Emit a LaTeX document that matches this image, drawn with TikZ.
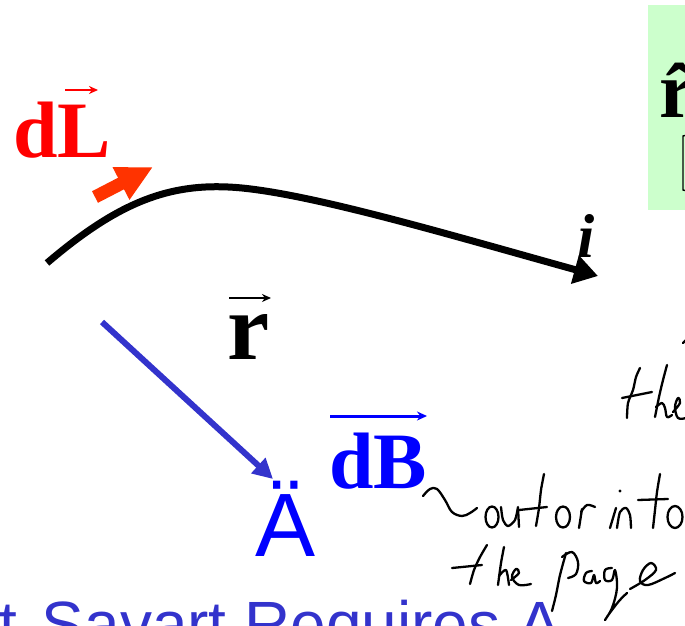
\documentclass[tikz,border=0pt]{standalone}
\usepackage{fontspec}
\setmainfont{Liberation Serif}
\newfontfamily\arialf{Liberation Sans}
\usetikzlibrary{arrows.meta}
\definecolor{dlred}{HTML}{FF0000}
\definecolor{arrred}{HTML}{FF3300}
\definecolor{blueA}{HTML}{0000FF}
\definecolor{blueB}{HTML}{3333CC}
\definecolor{greenbox}{HTML}{CCFFCC}
\begin{document}
\begin{tikzpicture}[x=1pt,y=-1pt,
  lbl/.style={inner sep=0pt, outer sep=0pt, anchor=base west},
  hand/.style={line width=2.3pt, line cap=round, line join=round, black},
  vecarr/.style={line width=2pt, -{Stealth[length=9pt,width=8pt]}}]
\useasboundingbox (0,0) rectangle (685,626);
% green box (partially visible)
\fill[greenbox] (648,5) rectangle (690,210);
\node[lbl] (rhat) at (659,117) {\fontsize{80}{80}\selectfont\bfseries\^{r}};
\draw[line width=1.4pt] (687,135) -- (683,136) -- (683,190) -- (687,191);
% dL label
\node[lbl, text=dlred] (dL) at (13,157) {\fontsize{80}{80}\selectfont\bfseries dL};
\coordinate (dLv0) at (65,90); \coordinate (dLv1) at (98,90);
\draw[vecarr, dlred] (dLv0) -- (dLv1);
% red direction arrow
\coordinate (ra0) at (95,197); \coordinate (ra1) at (153,167);
\draw[arrred, line width=13pt, -{Triangle[length=36pt,width=34pt]}] (ra0) -- (ra1);
% current-carrying wire
\coordinate (w0) at (47,263); \coordinate (w1) at (228,187); \coordinate (w2) at (598,276);
\draw[line width=7pt, -{Triangle[length=24pt,width=28pt]}]
  (w0) .. controls (115,205) and (165,184) .. (w1)
       .. controls (300,190) and (450,235) .. (w2);
\node[lbl] (cur) at (577,257) {\fontsize{62}{62}\selectfont\bfseries\itshape i};
% r vector
\node[lbl] (rvec) at (227,359) {\fontsize{95}{95}\selectfont\bfseries r};
\coordinate (rv0) at (229,298); \coordinate (rv1) at (271,298);
\draw[vecarr] (rv0) -- (rv1);
\coordinate (b0) at (102,322); \coordinate (b1) at (273,479);
\draw[blueB, line width=6pt, -{Triangle[length=20pt,width=20pt]}] (b0) -- (b1);
% point A
\node[lbl, text=blueA] (ptA) at (255,556) {\arialf\fontsize{90}{90}\selectfont Ä};
% dB
\node[lbl, text=blueA] (dB) at (329,488) {\fontsize{80}{80}\selectfont\bfseries dB};
\coordinate (dBv0) at (330,416); \coordinate (dBv1) at (427,416);
\draw[blueA, line width=3pt, -{Stealth[length=10pt,width=9pt]}] (dBv0) -- (dBv1);
% bottom title (cut off)
\node[lbl, text=blueB] (title) at (-1,646) {\arialf\fontsize{64}{64}\selectfont t\hspace{25pt}Savart Requires A};
% handwriting: ~ out or into
\draw[hand] plot[smooth, tension=0.6] coordinates {(423,496) (430,489) (437,489) (445,500) (452,512) (462,516) (470,513) (477,508)};
\draw[hand] (492,517) ellipse [x radius=6.5, y radius=10.5];
\draw[hand] plot[smooth, tension=0.5] coordinates {(501,507) (503,520) (508,526) (515,520) (518,507)};
\draw[hand] (518,508) -- (519,527);
\draw[hand] plot[smooth, tension=0.5] coordinates {(544,474) (541,490) (539,508) (536,526)};
\draw[hand] (519,510) -- (547,507);
\draw[hand] (563,517) ellipse [x radius=7, y radius=10.5];
\draw[hand] (579,528) -- (582,509);
\draw[hand] plot[smooth, tension=0.6] coordinates {(581,512) (587,505) (595,507)};
\draw[hand] (610,528) -- (616,508);
\fill (620,491) circle [radius=1.6];
\draw[hand] plot[smooth, tension=0.5] coordinates {(617,528) (620,512) (626,508) (630,515) (631,528)};
\draw[hand] plot[smooth, tension=0.5] coordinates {(660,474) (657,492) (655,510) (653,528)};
\draw[hand] (638,500) -- (668,499);
\draw[hand] (675,517) ellipse [x radius=7.5, y radius=11];
% handwriting: the page
\draw[hand] plot[smooth, tension=0.5] coordinates {(487,545) (480,557) (474,570) (470,584)};
\draw[hand] (452,568) -- (482,565);
\draw[hand] plot[smooth, tension=0.5] coordinates {(504,547) (501,563) (498,585)};
\draw[hand] plot[smooth, tension=0.5] coordinates {(499,576) (506,570) (509,585)};
\draw[hand] plot[smooth, tension=0.6] coordinates {(511,580) (519,573) (516,569) (512,577) (519,585) (531,584)};
\draw[hand] plot[smooth, tension=0.5] coordinates {(566,553) (560,575) (556,595) (552,611)};
\draw[hand] plot[smooth, tension=0.6] coordinates {(562,557) (572,552) (578,562) (576,574) (568,578)};
\draw[hand] plot[smooth, tension=0.6] coordinates {(592,571) (586,573) (584,581) (591,583) (594,575) (596,583) (600,581)};
\draw[hand] plot[smooth, tension=0.6] coordinates {(612,568) (605,570) (605,580) (612,580) (615,570) (617,588) (612,608) (605,620) (609,614) (619,601) (627,593)};
\draw[hand] plot[smooth, tension=0.6] coordinates {(630,589) (645,580) (656,570) (651,563) (643,570) (640,581) (648,585) (665,578) (675,573)};
% handwriting: "the" top right
\draw[hand] plot[smooth, tension=0.5] coordinates {(640,368) (636,377) (633,390) (628,403) (627,418)};
\draw[hand] (622,398) -- (652,392);
\draw[hand] plot[smooth, tension=0.5] coordinates {(667,365) (663,380) (659,397) (655,417)};
\draw[hand] plot[smooth, tension=0.6] coordinates {(656,407) (662,403) (665,408) (667,417) (672,415)};
\draw[hand] plot[smooth, tension=0.6] coordinates {(673,412) (680,403) (678,398) (675,407) (678,418) (686,418)};
\draw[hand] (683,343) -- (686,340);
\end{tikzpicture}
\end{document}
